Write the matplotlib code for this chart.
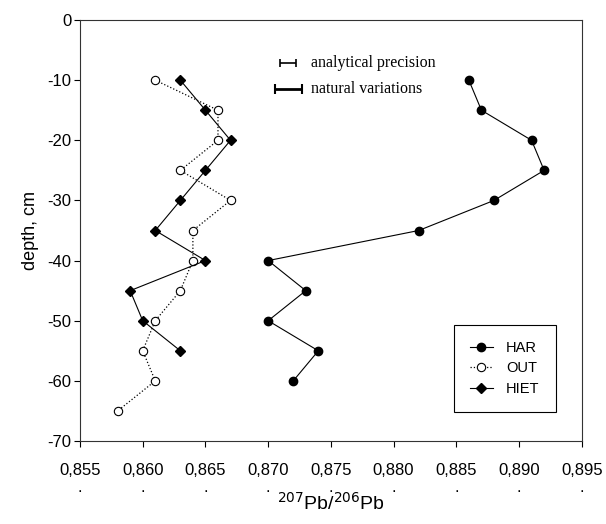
import matplotlib
matplotlib.use('Agg')
import matplotlib.pyplot as plt

# 数据
depth_har = [-10, -15, -20, -25, -30, -35, -40, -45, -50, -55, -60]
pb_har = [0.886, 0.887, 0.891, 0.892, 0.888, 0.882, 0.870, 0.873, 0.870, 0.874, 0.872]

depth_out = [-10, -15, -20, -25, -30, -35, -40, -45, -50, -55, -60, -65]
pb_out = [0.861, 0.866, 0.866, 0.863, 0.867, 0.864, 0.864, 0.863, 0.861, 0.860, 0.861, 0.858]

depth_hiet = [-10, -15, -20, -25, -30, -35, -40, -45, -50, -55]
pb_hiet = [0.863, 0.865, 0.867, 0.865, 0.863, 0.861, 0.865, 0.859, 0.860, 0.863]

xticks = [0.855, 0.860, 0.865, 0.870, 0.875, 0.880, 0.885, 0.890, 0.895]
xtick_labels = ['0,855', '0,860', '0,865', '0,870', '0,875', '0,880', '0,885', '0,890', '0,895']
yticks = [0, -10, -20, -30, -40, -50, -60, -70]

# 误差条 (半宽)
analytical_precision = 0.00064
natural_variations = 0.00107

plt.rcParams['font.family'] = ['Liberation Sans', 'DejaVu Sans']

fig = plt.figure(figsize=(6.06, 5.24), dpi=100)
ax = fig.add_axes([0.132, 0.1584, 0.828, 0.8034])

ax.plot(pb_har, depth_har, color='black', linestyle='-', linewidth=0.8,
        marker='o', markersize=6, markerfacecolor='black', label='HAR')
ax.plot(pb_out, depth_out, color='black', linestyle=':', linewidth=0.9,
        marker='o', markersize=6, markerfacecolor='white', markeredgewidth=0.8, label='OUT')
ax.plot(pb_hiet, depth_hiet, color='black', linestyle='-', linewidth=0.8,
        marker='D', markersize=5, markerfacecolor='black', label='HIET')

# 误差说明
ax.errorbar([0.8716], [-7.15], xerr=[analytical_precision], color='black',
            linewidth=1.2, capsize=3, capthick=1.2)
ax.errorbar([0.8716], [-11.5], xerr=[natural_variations], color='black',
            linewidth=2.0, capsize=3.5, capthick=1.5)
ax.text(0.8734, -7.15, 'analytical precision', fontsize=11.5,
        family=['Liberation Serif'], va='center', ha='left')
ax.text(0.8734, -11.5, 'natural variations', fontsize=11.5,
        family=['Liberation Serif'], va='center', ha='left')

ax.set_xlim(0.855, 0.895)
ax.set_ylim(-70, 0)
ax.set_xticks(xticks)
ax.set_xticklabels([s + '\n.' for s in xtick_labels], fontsize=12, linespacing=1.15)
ax.set_yticks(yticks)
ax.set_yticklabels([str(v) for v in yticks], fontsize=12)
ax.tick_params(axis='x', direction='out', length=4, width=0.8, pad=12)
ax.tick_params(axis='y', direction='out', length=4, width=0.8, pad=2)
for s in ax.spines.values():
    s.set_linewidth(0.8)
    s.set_color('#333333')

ax.set_ylabel('depth, cm', fontsize=13, labelpad=6)
ax.set_xlabel(r'$^{207}$Pb/$^{206}$Pb', fontsize=14, labelpad=-2)

leg = ax.legend(loc='lower right', bbox_to_anchor=(0.948, 0.069), borderaxespad=0,
                fontsize=10.5, fancybox=False, framealpha=1, edgecolor='black',
                handlelength=1.6, borderpad=1.1, labelspacing=0.45, handletextpad=0.9)
leg.get_frame().set_linewidth(0.8)

fig.savefig('out.png', dpi=100)
